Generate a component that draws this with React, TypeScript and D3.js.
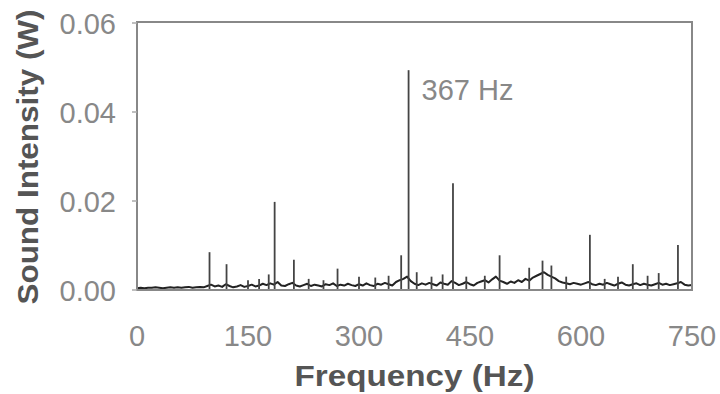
import React from "react";
import * as d3 from "d3";

// x axis ticks and y axis ticks
const xTicks = [0, 150, 300, 450, 600, 750];
const yTicks = [0, 0.02, 0.04, 0.06];

// background noise floor, sampled every 5 Hz from 0 to 750 Hz
const noiseStep = 5;
const noise = [
  0.0004, 0.0005, 0.0004, 0.0005, 0.0005, 0.0006, 0.0005, 0.0004, 0.0005, 0.0006,
  0.0005, 0.0006, 0.0005, 0.0006, 0.0007, 0.0005, 0.0006, 0.0007, 0.0006, 0.0009,
  0.0012, 0.0008, 0.0010, 0.0007, 0.0013, 0.0009, 0.0006, 0.0008, 0.0011, 0.0007,
  0.0009, 0.0012, 0.0008, 0.0010, 0.0014, 0.0011, 0.0015, 0.0012, 0.0018, 0.0010,
  0.0009, 0.0013, 0.0016, 0.0010, 0.0008, 0.0011, 0.0014, 0.0009, 0.0012, 0.0010,
  0.0008, 0.0013, 0.0011, 0.0015, 0.0009, 0.0012, 0.0010, 0.0014, 0.0011, 0.0009,
  0.0013, 0.0010, 0.0015, 0.0011, 0.0009, 0.0014, 0.0012, 0.0016, 0.0013, 0.0010,
  0.0018, 0.0022, 0.0025, 0.0030, 0.0020, 0.0014, 0.0011, 0.0015, 0.0012, 0.0016,
  0.0013, 0.0010, 0.0017, 0.0014, 0.0012, 0.0020, 0.0016, 0.0011, 0.0014, 0.0018,
  0.0013, 0.0010, 0.0016, 0.0019, 0.0022, 0.0017, 0.0024, 0.0030, 0.0021, 0.0018,
  0.0014, 0.0019, 0.0016, 0.0022, 0.0018, 0.0025, 0.0021, 0.0028, 0.0032, 0.0036,
  0.0040, 0.0034, 0.0030, 0.0026, 0.0020, 0.0017, 0.0015, 0.0013, 0.0016, 0.0014,
  0.0012, 0.0015, 0.0018, 0.0013, 0.0011, 0.0014, 0.0012, 0.0016, 0.0013, 0.0010,
  0.0014, 0.0017, 0.0012, 0.0010, 0.0013, 0.0015, 0.0011, 0.0014, 0.0012, 0.0010,
  0.0013, 0.0016, 0.0012, 0.0014, 0.0011, 0.0013, 0.0015, 0.0018, 0.0012, 0.0010,
  0.0011,
];

// spectral peaks (Hz) and their intensity (W)
const peakFreqs = [
  98, 121, 150, 165, 178, 186, 212, 232, 252, 271, 300, 322, 340, 357, 367, 378,
  398, 413, 427, 445, 470, 490, 530, 548, 560, 580, 612, 632, 650, 670, 690, 705, 731,
];
const peakValues = [
  0.0085, 0.0058, 0.0022, 0.0025, 0.0035, 0.0198, 0.0068, 0.0025, 0.0022, 0.0048,
  0.0030, 0.0028, 0.0032, 0.0078, 0.0494, 0.0040, 0.0030, 0.0035, 0.0240, 0.0030,
  0.0032, 0.0078, 0.0050, 0.0066, 0.0055, 0.0030, 0.0124, 0.0025, 0.0030, 0.0058,
  0.0032, 0.0038, 0.0101,
];

const label = "367 Hz";
const labelFreq = 367;

const W = 720;
const H = 394;
const m = { left: 137, right: 692, top: 22, bottom: 290 };

export default function App() {
  const x = d3.scaleLinear().domain([0, 750]).range([m.left, m.right]);
  const y = d3.scaleLinear().domain([0, 0.06]).range([m.bottom, m.top + 1]);

  // noise line
  const line = d3
    .line<number>()
    .x((d, i) => x(i * noiseStep))
    .y((d) => y(d));

  const tickFont = "Liberation Sans, Arial, sans-serif";
  const labelTop = y(peakValues[peakFreqs.indexOf(labelFreq)]);

  return (
    <svg
      width={W}
      height={H}
      style={{ position: "absolute", left: 0, top: 0, background: "#fff" }}
      fontFamily={tickFont}
    >
      {/* noise floor */}
      <path d={line(noise) || ""} fill="none" stroke="#222" strokeWidth={2} strokeLinejoin="round" />

      {/* peaks as stems */}
      {peakFreqs.map((f, i) => (
        <line
          key={f}
          x1={x(f)}
          x2={x(f)}
          y1={y(0)}
          y2={y(peakValues[i])}
          stroke="#444"
          strokeWidth={1.8}
        />
      ))}

      {/* frame */}
      <rect
        x={m.left}
        y={m.top}
        width={m.right - m.left}
        height={m.bottom - m.top}
        fill="none"
        stroke="#888"
        strokeWidth={2}
      />

      {/* y ticks */}
      {yTicks.map((t) => (
        <g key={t}>
          <line x1={m.left - 5} x2={m.left} y1={y(t)} y2={y(t)} stroke="#aaa" strokeWidth={1.5} />
          <text x={116} y={y(t) + 11} textAnchor="end" fontSize={29} fill="#888">
            {d3.format(".2f")(t)}
          </text>
        </g>
      ))}

      {/* x ticks */}
      {xTicks.map((t) => (
        <text key={t} x={x(t)} y={346} textAnchor="middle" fontSize={29} fill="#888">
          {t}
        </text>
      ))}

      {/* annotation */}
      <text x={x(labelFreq) + 13} y={labelTop + 30} fontSize={29} fill="#888">
        {label}
      </text>

      {/* axis titles */}
      <text
        x={(m.left + m.right) / 2}
        y={386}
        textAnchor="middle"
        fontSize={29}
        fontWeight="bold"
        fill="#555"
        textLength={240}
        lengthAdjust="spacingAndGlyphs"
      >
        Frequency (Hz)
      </text>
      <text
        transform={`translate(38,${157}) rotate(-90)`}
        textAnchor="middle"
        fontSize={29}
        fontWeight="bold"
        fill="#555"
        textLength={295}
        lengthAdjust="spacingAndGlyphs"
      >
        Sound Intensity (W)
      </text>
    </svg>
  );
}
